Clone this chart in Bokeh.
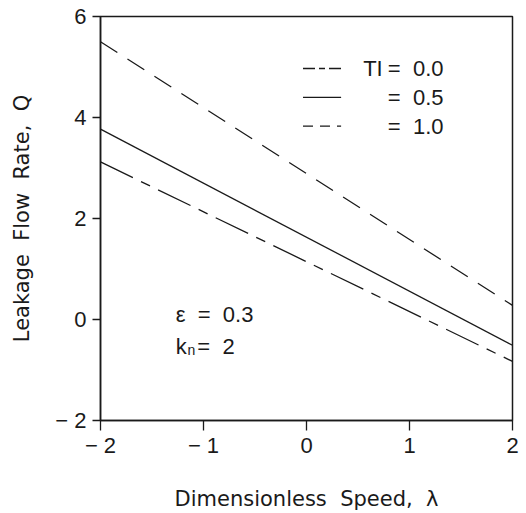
from bokeh.plotting import figure
from bokeh.models import Range1d, FixedTicker
from bokeh.core.properties import value
from bokeh.embed import file_html
from bokeh.resources import INLINE

NB = "\u00a0"

# ---- data ----
lam = [-2, 2]
q_ti00 = [3.12, -0.83]   # TI = 0.0 (dash-dot)
q_ti05 = [3.77, -0.51]   # TI = 0.5 (solid)
q_ti10 = [5.50, 0.28]    # TI = 1.0 (dashed)

x_ticks = [-2, -1, 0, 1, 2]
y_ticks = [-2, 0, 2, 4, 6]
x_tick_labels = {-2: "\u2212" + NB + "2", -1: "\u2212" + NB + "1", 0: "0", 1: "1", 2: "2"}
y_tick_labels = {-2: "\u2212" + NB + "2", 0: "0", 2: "2", 4: "4", 6: "6"}

legend_labels = ["TI", "=" + NB * 2 + "0.0", "=" + NB * 2 + "0.5", "=" + NB * 2 + "1.0"]

FONT = "Liberation Sans"
LABEL_FONT = "DejaVu Sans"
INK = "#1a1a1a"

p = figure(width=526, height=513, output_backend="svg", toolbar_location=None,
           x_range=Range1d(-2, 2), y_range=Range1d(-2, 6),
           min_border_left=100, min_border_right=14,
           min_border_top=16, min_border_bottom=91)
p.grid.visible = False
p.background_fill_color = "white"
p.border_fill_color = "white"
p.outline_line_color = INK
p.outline_line_width = 1.5

for ax in (p.xaxis[0], p.yaxis[0]):
    ax.axis_line_color = INK
    ax.axis_line_width = 1.5
    ax.major_tick_line_color = INK
    ax.major_tick_line_width = 1.3
    ax.major_tick_in = 0
    ax.minor_tick_line_color = None
    ax.major_label_text_font = FONT
    ax.major_label_text_font_size = "22px"
    ax.major_label_text_color = INK
    ax.axis_label_text_font = LABEL_FONT
    ax.axis_label_text_font_size = "21px"
    ax.axis_label_text_font_style = "normal"
    ax.axis_label_text_color = INK

p.xaxis.ticker = FixedTicker(ticks=x_ticks)
p.yaxis.ticker = FixedTicker(ticks=y_ticks)
p.xaxis.major_label_overrides = x_tick_labels
p.yaxis.major_label_overrides = y_tick_labels
p.xaxis.major_tick_out = 10
p.yaxis.major_tick_out = 8
p.xaxis.major_label_standoff = 2
p.yaxis.major_label_standoff = 6
p.xaxis.axis_label = "Dimensionless" + NB * 2 + "Speed," + NB * 2 + "\u03bb"
p.yaxis.axis_label = "Leakage" + NB * 2 + "Flow" + NB * 2 + "Rate," + NB * 2 + "Q"
p.xaxis.axis_label_standoff = 26
p.yaxis.axis_label_standoff = 18

# ---- curves ----
p.line(lam, q_ti00, line_color=INK, line_width=1.3, line_dash="36 9 10 9")
p.line(lam, q_ti05, line_color=INK, line_width=1.3)
p.line(lam, q_ti10, line_color=INK, line_width=1.3, line_dash="20 12")

# ---- legend (drawn by hand, like the original) ----
leg_x0, leg_x1 = -0.034, 0.336
leg_y = [4.97, 4.40, 3.83]
p.line([leg_x0, leg_x1], [leg_y[0], leg_y[0]], line_color=INK, line_width=1.3, line_dash="12 4 6 4")
p.line([leg_x0, leg_x1], [leg_y[1], leg_y[1]], line_color=INK, line_width=1.3)
p.line([leg_x0, leg_x1], [leg_y[2], leg_y[2]], line_color=INK, line_width=1.3, line_dash="10 7")

p.text(x=[0.55], y=[leg_y[0]], text=[legend_labels[0]], text_font=value(FONT),
       text_font_size="22px", text_color=INK, text_baseline="middle", text_align="left")
p.text(x=[0.79] * 3, y=leg_y, text=legend_labels[1:], text_font=value(FONT),
       text_font_size="22px", text_color=INK, text_baseline="middle", text_align="left")

# ---- parameter annotations ----
p.text(x=[-1.27], y=[0.10], text=["\u03b5" + NB * 2 + "=" + NB * 2 + "0.3"], text_font=value(FONT),
       text_font_size="22px", text_color=INK, text_baseline="middle", text_align="left")
p.text(x=[-1.27], y=[-0.53], text=["k"], text_font=value(FONT),
       text_font_size="22px", text_color=INK, text_baseline="middle", text_align="left")
p.text(x=[-1.155], y=[-0.60], text=["n"], text_font=value(FONT),
       text_font_size="14px", text_color=INK, text_baseline="middle", text_align="left")
p.text(x=[-1.06], y=[-0.53], text=["=" + NB * 2 + "2"], text_font=value(FONT),
       text_font_size="22px", text_color=INK, text_baseline="middle", text_align="left")

open("out.html", "w").write(file_html(p, INLINE))
